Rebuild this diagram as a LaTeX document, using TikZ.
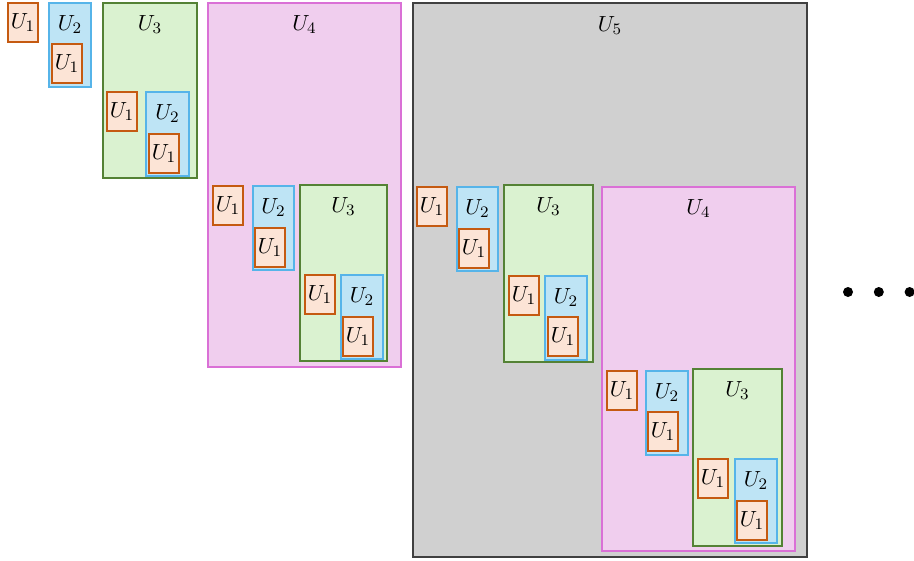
\documentclass[tikz,border=0pt]{standalone}
\usepackage{tikz}
\usetikzlibrary{positioning}

\definecolor{oneFill}{RGB}{252,228,214}
\definecolor{oneDraw}{RGB}{197,90,17}
\definecolor{twoFill}{RGB}{190,228,245}
\definecolor{twoDraw}{RGB}{86,180,233}
\definecolor{threeFill}{RGB}{218,242,208}
\definecolor{threeDraw}{RGB}{84,130,53}
\definecolor{fourFill}{RGB}{240,206,238}
\definecolor{fourDraw}{RGB}{218,112,214}
\definecolor{fiveFill}{RGB}{208,208,208}
\definecolor{fiveDraw}{RGB}{64,64,64}

\tikzset{
  oneBox/.style={draw=oneDraw, fill=oneFill, line width=0.8pt},
  twoBox/.style={draw=twoDraw, fill=twoFill, line width=0.7pt},
  threeBox/.style={draw=threeDraw, fill=threeFill, line width=0.7pt},
  fourBox/.style={draw=fourDraw, fill=fourFill, line width=0.7pt},
  fiveBox/.style={draw=fiveDraw, fill=fiveFill, line width=0.7pt},
  unitlab/.style={font=\fontsize{11}{13}\selectfont, inner sep=0pt},
  dot/.style={circle, fill=black, minimum size=5pt, inner sep=0pt},
}

\begin{document}
\begin{tikzpicture}[x=0.5pt, y=-0.5pt]
  \useasboundingbox (0,0) rectangle (914,561);

  % U5 (outer)
  \foreach \x/\y/\w/\h [count=\i] in {413/3/394/554} {
    \draw[fiveBox] (\x,\y) rectangle ++(\w,\h);
    \node[unitlab, anchor=north] (labFive-\i) at (\x+\w/2,\y+13) {$U_5$};
  }

  % U4 boxes
  \foreach \x/\y/\w/\h [count=\i] in {208/3/193/364, 602/187/193/364} {
    \draw[fourBox] (\x,\y) rectangle ++(\w,\h);
    \node[unitlab, anchor=north] (labFour-\i) at (\x+\w/2,\y+12) {$U_4$};
  }

  % U3 boxes
  \foreach \x/\y/\w/\h [count=\i] in {103/3/94/175, 300/185/87/176,
                                      504/185/89/177, 693/369/89/177} {
    \draw[threeBox] (\x,\y) rectangle ++(\w,\h);
    \node[unitlab, anchor=north] (labThree-\i) at (\x+\w/2,\y+12) {$U_3$};
  }

  % U2 boxes
  \foreach \x/\y/\w [count=\i] in {49/3/42, 146/92/43, 253/186/41, 341/275/42,
                                   457/187/41, 545/276/42, 646/371/42, 735/459/42} {
    \draw[twoBox] (\x,\y) rectangle ++(\w,84);
    \node[unitlab, anchor=north] (labTwo-\i) at (\x+\w/2,\y+12) {$U_2$};
  }

  % U1 boxes
  \foreach \x/\y [count=\i] in {8/3, 52/44, 107/92, 149/134,
                                213/186, 255/228, 305/275, 343/317,
                                417/187, 459/229, 509/276, 548/317,
                                607/371, 648/412, 698/459, 737/501} {
    \draw[oneBox] (\x,\y) rectangle ++(30,39);
    \node[unitlab] (labOne-\i) at (\x+15,\y+19.5) {$U_1$};
  }

  % dots
  \node[dot] (dot1) at (848,292) {};
  \node[dot, right=10pt of dot1] (dot2) {};
  \node[dot, right=10pt of dot2] (dot3) {};
\end{tikzpicture}
\end{document}
